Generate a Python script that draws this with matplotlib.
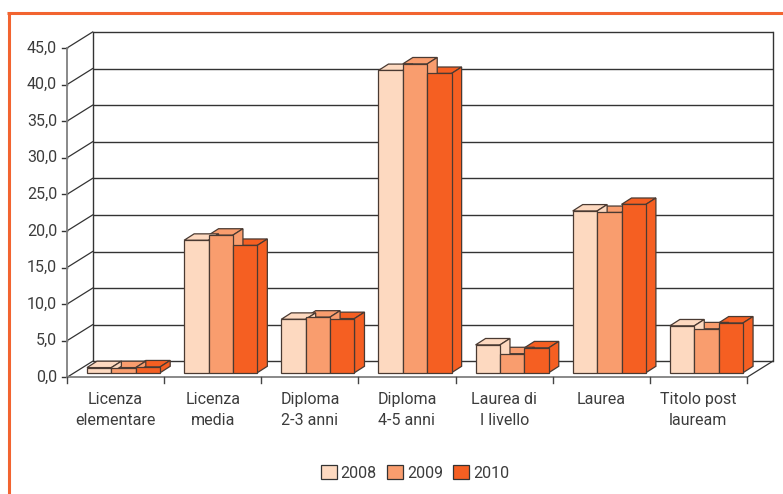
import matplotlib
matplotlib.use("Agg")
import matplotlib.pyplot as plt
from matplotlib.patches import Polygon, Patch
from matplotlib.lines import Line2D

plt.rcParams['font.family'] = ['Roboto', 'DejaVu Sans']

categories = ["Licenza\nelementare", "Licenza\nmedia", "Diploma\n2-3 anni", "Diploma\n4-5 anni",
              "Laurea di\nI livello", "Laurea", "Titolo post\nlauream"]
years = ["2008", "2009", "2010"]
v2008 = [0.7, 18.1, 7.3, 41.3, 3.8, 22.1, 6.4]
v2009 = [0.7, 18.8, 7.6, 42.2, 2.6, 21.9, 6.0]
v2010 = [0.8, 17.4, 7.4, 40.9, 3.4, 23.0, 6.8]
series = [v2008, v2009, v2010]
colors = ["#FDD9C0", "#F99D6E", "#F55F22"]
yticks = [0, 5, 10, 15, 20, 25, 30, 35, 40, 45]
ytick_labels = ["0,0", "5,0", "10,0", "15,0", "20,0", "25,0", "30,0", "35,0", "40,0", "45,0"]

W, H = 783, 494
fig = plt.figure(figsize=(W/100, H/100), dpi=100, facecolor="white")
L, R, B, T = 67, 747, 377.3, 48
ax = fig.add_axes([L/W, 1-B/H, (R-L)/W, (B-T)/H])
ax.set_xlim(0, 7)
ax.set_ylim(0, 45)
ax.patch.set_visible(False)
for s in ax.spines.values():
    s.set_visible(False)

px = 7/(R-L)
py = 45/(B-T)
wall_dx, wall_dy = 25.6*px, 16*py
bar_dx, bar_dy = 10*px, 6.4*py
base_dy = 4.6*py
bar_start = 20*px
bw = 24.4*px
grid_c = "#333333"
axis_c = "#808080"

# walls and grid
for v in yticks:
    ax.plot([wall_dx, 7+wall_dx], [v+wall_dy]*2, color=grid_c, lw=1.0, clip_on=False, zorder=1, solid_capstyle="butt")
    ax.plot([0, wall_dx], [v, v+wall_dy], color=grid_c, lw=0.9, clip_on=False, zorder=1)
    ax.plot([-5*px, 0], [v, v], color=grid_c, lw=1.0, clip_on=False, zorder=1)
ax.plot([wall_dx]*2, [wall_dy, 45+wall_dy], color=grid_c, lw=1.0, clip_on=False, zorder=1)
ax.plot([7+wall_dx]*2, [wall_dy, 45+wall_dy], color=grid_c, lw=1.0, clip_on=False, zorder=1)
ax.plot([7, 7+wall_dx], [0, wall_dy], color=grid_c, lw=0.9, clip_on=False, zorder=1)
ax.plot([0, 0], [0, 45], color=axis_c, lw=1.3, clip_on=False, zorder=2)
ax.plot([0, 7], [0, 0], color=axis_c, lw=1.3, clip_on=False, zorder=2)
for i in range(8):
    ax.plot([i, i], [0, -6*py], color="#444444", lw=1.0, clip_on=False, zorder=2)

# bars: tops and sides first (right to left), then fronts
edge = "#4a3a32"
for i in range(7):
    x0 = i + bar_start
    for j in (2, 1, 0):
        v = series[j][i]
        xl = x0 + j*bw
        xr = xl + bw
        y0 = base_dy
        y1 = y0 + v
        ax.add_patch(Polygon([(xl, y1), (xr, y1), (xr+bar_dx, y1+bar_dy), (xl+bar_dx, y1+bar_dy)],
                             closed=True, fc=colors[j], ec=edge, lw=0.9, clip_on=False, zorder=3))
        ax.add_patch(Polygon([(xr, y0), (xr+bar_dx, y0+bar_dy), (xr+bar_dx, y1+bar_dy), (xr, y1)],
                             closed=True, fc=colors[j], ec=edge, lw=0.9, clip_on=False, zorder=3))
    for j in range(3):
        xl = x0 + j*bw
        ax.bar(xl, series[j][i], bw, bottom=base_dy, align="edge", color=colors[j],
               edgecolor=edge, linewidth=0.9, zorder=4, clip_on=False)

ax.set_xticks([])
ax.set_yticks([])
txt = "#3c3c3c"
for v, s in zip(yticks, ytick_labels):
    ax.text(-10*px, v, s, ha="right", va="center", fontsize=11.5, color=txt, clip_on=False)
for i, c in enumerate(categories):
    ax.text(i+0.5, -14.5*py, c, ha="center", va="top", fontsize=11.5, color=txt, linespacing=1.55, clip_on=False)

# orange frame
frame = "#F26430"
fig.add_artist(Line2D([8.5/W, 8.5/W], [0, 1-12.5/H], color=frame, lw=2.2, solid_capstyle="butt", transform=fig.transFigure))
fig.add_artist(Line2D([7.4/W, 1], [1-12.8/H]*2, color=frame, lw=2.2, solid_capstyle="butt", transform=fig.transFigure))

handles = [Patch(fc=c, ec="#333333", lw=0.9) for c in colors]
fig.legend(handles, years, ncols=3, loc="center", bbox_to_anchor=(415/W, 1-473/H), frameon=False,
           fontsize=11.5, labelcolor=txt, handlelength=1.0, handleheight=1.0, handletextpad=0.25, columnspacing=0.65)

fig.savefig("out.png", dpi=100, facecolor="white")
